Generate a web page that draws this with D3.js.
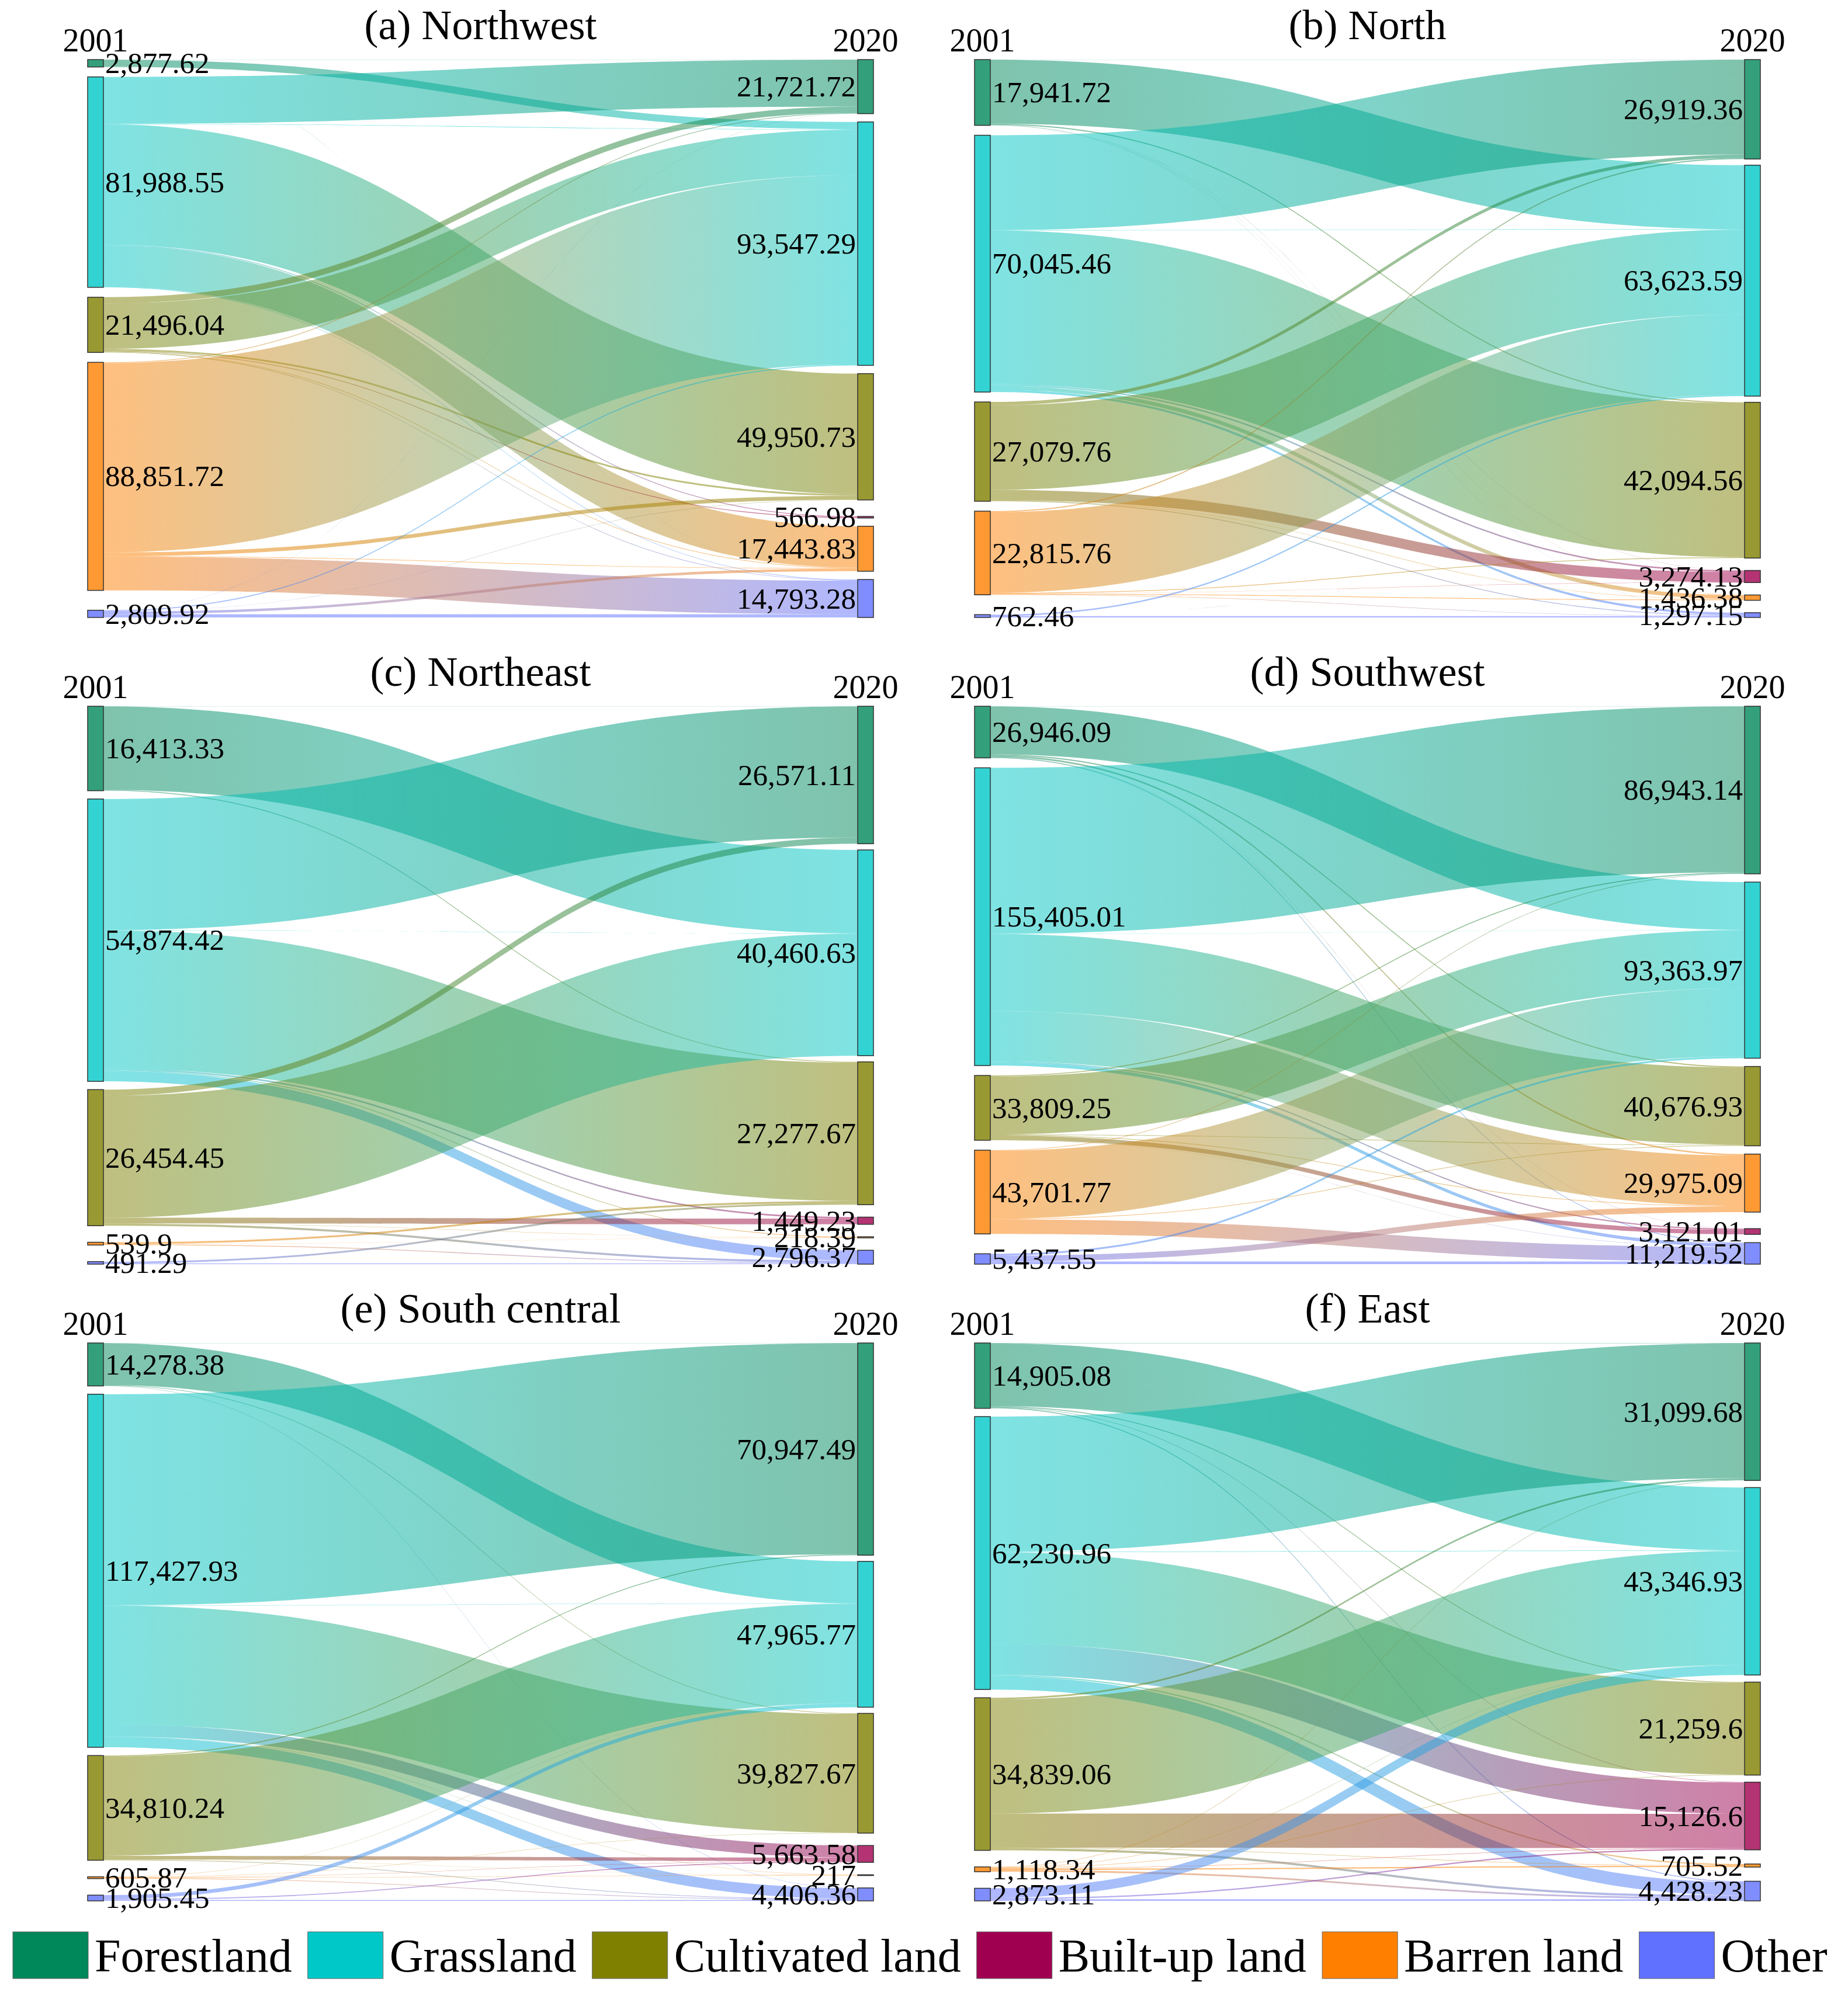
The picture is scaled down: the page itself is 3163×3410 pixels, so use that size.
<!DOCTYPE html>
<html lang="en">
<head>
<meta charset="UTF-8">
<style>
  body { margin: 0; background: #fff; }
  svg text { font-family: "Liberation Serif", "Times New Roman", serif; fill: #000; }
</style>
</head>
<body>
<script src="https://cdnjs.cloudflare.com/ajax/libs/d3/7.8.5/d3.min.js"></script>
<script>
// land types, same order for every row/column of the matrices below
var categories = ["Forestland", "Grassland", "Cultivated land", "Built-up land", "Barren land", "Other"];
var colors = ["#00875a", "#00c8c8", "#808000", "#a00050", "#ff8000", "#6070ff"];

var regions = ["(a) Northwest", "(b) North", "(c) Northeast", "(d) Southwest", "(e) South central", "(f) East"];

// node labels (km2), 0 = no node in that year
var area2001 = [
    [2877.62, 81988.55, 21496.04, 0, 88851.72, 2809.92],
    [17941.72, 70045.46, 27079.76, 0, 22815.76, 762.46],
    [16413.33, 54874.42, 26454.45, 0, 539.9, 491.29],
    [26946.09, 155405.01, 33809.25, 0, 43701.77, 5437.55],
    [14278.38, 117427.93, 34810.24, 0, 605.87, 1905.45],
    [14905.08, 62230.96, 34839.06, 0, 1118.34, 2873.11]
];
var area2020 = [
    [21721.72, 93547.29, 49950.73, 566.98, 17443.83, 14793.28],
    [26919.36, 63623.59, 42094.56, 3274.13, 1436.38, 1297.15],
    [26571.11, 40460.63, 27277.67, 1449.23, 218.39, 2796.37],
    [86943.14, 93363.97, 40676.93, 3121.01, 29975.09, 11219.52],
    [70947.49, 47965.77, 39827.67, 5663.58, 217, 4406.36],
    [31099.68, 43346.93, 21259.6, 15126.6, 705.52, 4428.23]
];

// top-to-bottom order of the 2020 column
var order2020 = [
    [0, 1, 2, 3, 4, 5],
    [0, 1, 2, 3, 4, 5],
    [0, 1, 2, 3, 4, 5],
    [0, 1, 2, 4, 3, 5],
    [0, 1, 2, 3, 4, 5],
    [0, 1, 2, 3, 4, 5]
];

// transfers 2001 (rows) -> 2020 (cols), estimated from band widths
var flowNorthwest = [
    [50, 2800, 0, 0, 0, 27],
    [18270, 200, 46900, 300, 16118, 200],
    [2400, 17700, 700, 300, 200, 200],
    [0, 0, 0, 0, 0, 0],
    [300, 73752, 1500, 0, 200, 13100],
    [50, 400, 100, 0, 1000, 1260]
];
var flowNorth = [
    [50, 17450, 300, 50, 50, 40],
    [25865, 100, 41965, 400, 1100, 615],
    [900, 23080, 0, 2800, 100, 200],
    [0, 0, 0, 0, 0, 0],
    [300, 21966, 200, 50, 200, 100],
    [0, 400, 20, 0, 0, 342]
];
var flowNortheast = [
    [30, 16233, 150, 0, 0, 0],
    [25487, 50, 26887, 300, 150, 2000],
    [1200, 23700, 0, 1100, 50, 400],
    [0, 0, 0, 0, 0, 0],
    [0, 0, 370, 0, 20, 150],
    [0, 0, 350, 0, 0, 141]
];
var flowSouthwest = [
    [50, 24996, 600, 100, 800, 400],
    [86600, 100, 40200, 600, 26176, 1700],
    [500, 30300, 300, 2300, 300, 100],
    [0, 0, 0, 0, 0, 0],
    [300, 35500, 300, 0, 0, 7600],
    [0, 1000, 0, 0, 3000, 1400]
];
var flowSouthCentral = [
    [50, 13928, 200, 0, 0, 100],
    [70200, 100, 39500, 4000, 100, 3500],
    [300, 33060, 0, 1200, 50, 200],
    [0, 0, 0, 0, 0, 0],
    [0, 100, 100, 100, 100, 200],
    [0, 1300, 0, 300, 0, 300]
];
var flowEast = [
    [50, 14350, 200, 100, 0, 200],
    [30800, 100, 20900, 7130, 300, 3000],
    [400, 26000, 0, 7800, 100, 500],
    [0, 0, 0, 0, 0, 0],
    [100, 100, 100, 100, 300, 400],
    [0, 2200, 0, 300, 0, 370]
];
var flows = [flowNorthwest, flowNorth, flowNortheast, flowSouthwest, flowSouthCentral, flowEast];

// layout
var width = 3163, height = 3410;
var nodeW = 27, pad = 17, panelH = 955, span = 1318;
var colX = [150, 1668], rowY = [102, 1209, 2299];
var smallShare = 0.04;   // nodes below this share get a wider gap above them
var fmt = d3.format(",");

var svg = d3.select("body").append("svg")
    .attr("width", width)
    .attr("height", height);
var defs = svg.append("defs");

function stack(nodes, y, total) {
    var used = d3.sum(nodes, function(d) { return y(d.v); });
    var w = nodes.slice(1).map(function(n) { return n.v < smallShare * total ? 2 : 1; });
    var unit = (panelH - used) / d3.sum(w);
    var cur = 0;
    nodes.forEach(function(n, k) {
        if (k > 0) cur += unit * w[k - 1];
        n.y0 = cur;
        n.y1 = cur + y(n.v);
        cur = n.y1;
    });
}

regions.forEach(function(name, p) {
    var ox = colX[p % 2];
    var g = svg.append("g")
        .attr("transform", "translate(" + ox + "," + rowY[Math.floor(p / 2)] + ")");
    var m = flows[p];

    var left = [0, 1, 2, 3, 4, 5].filter(function(i) { return area2001[p][i] > 0; })
        .map(function(i) { return {cat: i, v: d3.sum(m[i]), label: area2001[p][i]}; });
    var right = order2020[p].map(function(j) {
        return {cat: j, v: d3.sum(m, function(r) { return r[j]; }), label: area2020[p][j]};
    });

    var total = Math.max(d3.sum(left, function(d) { return d.v; }), d3.sum(right, function(d) { return d.v; }));
    var nMax = Math.max(left.length, right.length);
    var y = d3.scaleLinear().domain([0, total]).range([0, panelH - (nMax - 1) * pad]);
    stack(left, y, total);
    stack(right, y, total);

    right.forEach(function(n, k) { n.rank = k; });
    left.forEach(function(n, k) { n.rank = k; });

    var links = [];
    left.forEach(function(s) {
        right.forEach(function(t) {
            var v = m[s.cat][t.cat];
            if (v > 0) links.push({s: s, t: t, v: v});
        });
    });
    // source side sorted by target rank, target side by source rank
    left.forEach(function(s) {
        var cur = s.y0;
        links.filter(function(l) { return l.s === s; })
            .sort(function(a, b) { return a.t.rank - b.t.rank; })
            .forEach(function(l) { l.sy0 = cur; cur += y(l.v); l.sy1 = cur; });
    });
    right.forEach(function(t) {
        var cur = t.y0;
        links.filter(function(l) { return l.t === t; })
            .sort(function(a, b) { return a.s.rank - b.s.rank; })
            .forEach(function(l) { l.ty0 = cur; cur += y(l.v); l.ty1 = cur; });
    });

    var x0 = nodeW, x1 = span, xm = (x0 + x1) / 2;
    links.forEach(function(l, k) {
        l.grad = "grad" + p + "_" + k;
        var gr = defs.append("linearGradient").attr("id", l.grad)
            .attr("gradientUnits", "userSpaceOnUse")
            .attr("x1", ox + x0).attr("x2", ox + x1)
            .attr("y1", 0).attr("y2", 0)
            .attr("gradientTransform", "translate(" + (-ox) + ",0)");
        gr.append("stop").attr("offset", "0%").attr("stop-color", colors[l.s.cat]);
        gr.append("stop").attr("offset", "100%").attr("stop-color", colors[l.t.cat]);
    });

    g.append("g").selectAll("path").data(links).join("path")
        .attr("d", function(l) {
            return "M" + x0 + "," + l.sy0 +
                "C" + xm + "," + l.sy0 + " " + xm + "," + l.ty0 + " " + x1 + "," + l.ty0 +
                "L" + x1 + "," + l.ty1 +
                "C" + xm + "," + l.ty1 + " " + xm + "," + l.sy1 + " " + x0 + "," + l.sy1 + "Z";
        })
        .attr("fill", function(l) { return "url(#" + l.grad + ")"; })
        .attr("fill-opacity", 0.5);

    // nodes
    var nodes = left.map(function(n) { return Object.assign({x: 0, side: "l"}, n); })
        .concat(right.map(function(n) { return Object.assign({x: span, side: "r"}, n); }));
    g.append("g").selectAll("rect").data(nodes).join("rect")
        .attr("x", function(d) { return d.x; })
        .attr("y", function(d) { return d.y0; })
        .attr("width", nodeW)
        .attr("height", function(d) { return Math.max(d.y1 - d.y0, 1); })
        .attr("fill", function(d) { return colors[d.cat]; })
        .attr("fill-opacity", 0.8)
        .attr("stroke", "#333")
        .attr("stroke-width", 1.5);

    g.append("g").selectAll("text").data(nodes).join("text")
        .attr("x", function(d) { return d.side === "l" ? nodeW + 3 : span - 3; })
        .attr("y", function(d) { return (d.y0 + d.y1) / 2; })
        .attr("dominant-baseline", "central")
        .attr("text-anchor", function(d) { return d.side === "l" ? "start" : "end"; })
        .style("font-size", "51px")
        .text(function(d) { return fmt(d.label); });

    // years and title
    g.append("text").attr("x", nodeW / 2).attr("y", -14)
        .attr("text-anchor", "middle").style("font-size", "56px").text("2001");
    g.append("text").attr("x", span + nodeW / 2).attr("y", -14)
        .attr("text-anchor", "middle").style("font-size", "56px").text("2020");
    g.append("text").attr("x", (span + nodeW) / 2).attr("y", -35)
        .attr("text-anchor", "middle").style("font-size", "72px").text(name);
});

// legend
var legend = svg.append("g").attr("transform", "translate(22,3307)");
var lx = 0;
categories.forEach(function(c, i) {
    var item = legend.append("g").attr("transform", "translate(" + lx + ",0)");
    item.append("rect").attr("width", 129).attr("height", 80)
        .attr("fill", colors[i]).attr("stroke", "#666").attr("stroke-width", 1);
    var t = item.append("text").attr("x", 140).attr("y", 68)
        .style("font-size", "80px").text(c);
    lx += 140 + t.node().getComputedTextLength() + 27;
});
</script>
</body>
</html>
